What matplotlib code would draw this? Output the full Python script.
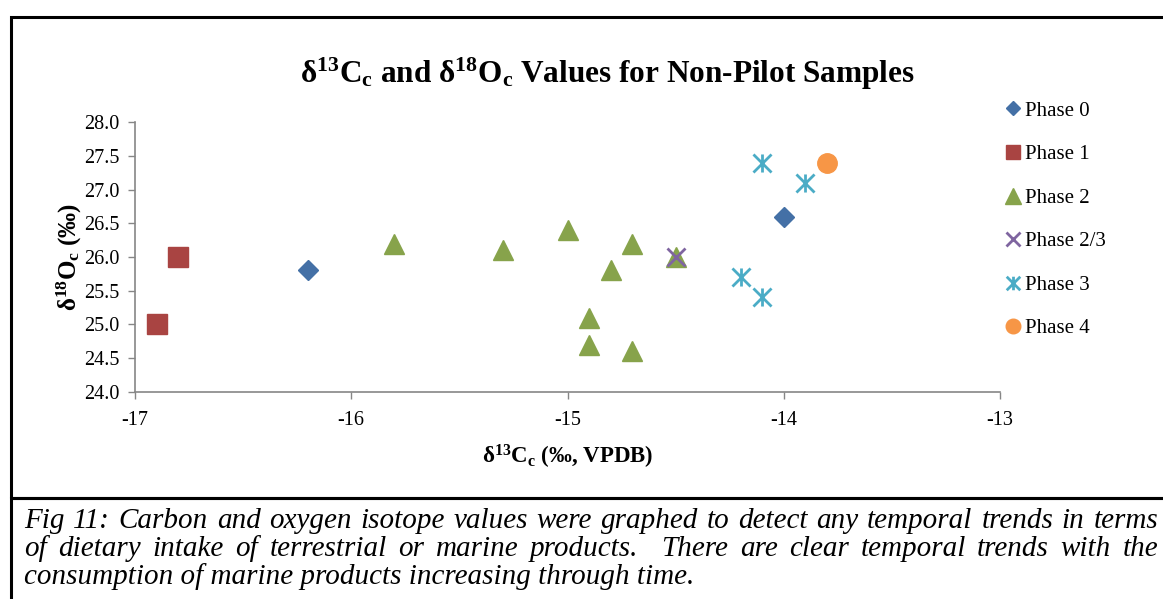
import numpy as np
import matplotlib
matplotlib.use('Agg')
import matplotlib.pyplot as plt
from matplotlib.path import Path
from matplotlib.patches import Rectangle

plt.rcParams['font.family'] = ['Liberation Serif', 'DejaVu Serif']
plt.rcParams['mathtext.fontset'] = 'custom'
plt.rcParams['mathtext.rm'] = 'Liberation Serif'
plt.rcParams['mathtext.it'] = 'Liberation Serif:italic'
plt.rcParams['mathtext.bf'] = 'Liberation Serif:bold'

# data (d13C, d18O)
phase0_x = [-16.2, -14.0]
phase0_y = [25.8, 26.6]
phase1_x = [-16.9, -16.8]
phase1_y = [25.0, 26.0]
phase2_x = [-15.8, -15.3, -15.0, -14.7, -14.8, -14.5, -14.9, -14.9, -14.7]
phase2_y = [26.2, 26.1, 26.4, 26.2, 25.8, 26.0, 25.1, 24.7, 24.6]
phase23_x = [-14.5]
phase23_y = [26.0]
phase3_x = [-14.1, -13.9, -14.2, -14.1]
phase3_y = [27.4, 27.1, 25.7, 25.4]
phase4_x = [-13.8]
phase4_y = [27.4]

x_ticks = [-17, -16, -15, -14, -13]
y_ticks = np.arange(24.0, 28.01, 0.5)

caption = ['Fig 11: Carbon and oxygen isotope values were graphed to detect any temporal trends in terms',
           'of dietary intake of terrestrial or marine products.  There are clear temporal trends with the',
           'consumption of marine products increasing through time.']

# excel style star: X with a vertical bar
star = Path([(0, -1), (0, 1), (-1, -1), (1, 1), (-1, 1), (1, -1)],
            [Path.MOVETO, Path.LINETO, Path.MOVETO, Path.LINETO, Path.MOVETO, Path.LINETO])

fig = plt.figure(figsize=(11.63, 5.99), dpi=100)
ax = fig.add_axes([0.116, 0.3456, 0.744, 0.4507])

ax.plot(phase0_x, phase0_y, 'D', color='#4470A6', ms=10, ls='none', label='Phase 0')
ax.plot(phase1_x, phase1_y, 's', color='#A94442', ms=14, ls='none', label='Phase 1')
ax.plot(phase2_x, phase2_y, '^', color='#87A34B', ms=15, ls='none', label='Phase 2')
ax.plot(phase23_x, phase23_y, 'x', color='#7F65A0', ms=13, mew=2, ls='none', label='Phase 2/3')
ax.plot(phase3_x, phase3_y, marker=star, color='#4BACC6', ms=13, mew=2, ls='none', label='Phase 3')
ax.plot(phase4_x, phase4_y, 'o', color='#F79646', ms=14, ls='none', label='Phase 4')

ax.set_xlim(-17, -13)
ax.set_ylim(24.0, 28.0)
ax.set_xticks(x_ticks)
ax.set_xticklabels([str(v) for v in x_ticks])
ax.set_yticks(y_ticks)
ax.set_yticklabels(['%.1f' % v for v in y_ticks])
ax.tick_params(direction='out', length=5, color='#868686', labelsize=14.5, width=1)
ax.tick_params(axis='x', pad=9)
ax.tick_params(axis='y', pad=6)
for side in ['top', 'right']:
    ax.spines[side].set_visible(False)
for side in ['left', 'bottom']:
    ax.spines[side].set_color('#868686')
    ax.spines[side].set_linewidth(1.2)

ax.set_xlabel(r'$\mathbf{\delta^{13}C_c}$' + ' (‰, VPDB)', fontsize=16.5, fontweight='bold', labelpad=9)
ax.set_ylabel(r'$\mathbf{\delta^{18}O_c}$' + ' (‰)', fontsize=18, fontweight='bold', labelpad=0)

fig.text(0.522, 0.876, r'$\mathbf{\delta^{13}C_c}$ and $\mathbf{\delta^{18}O_c}$ Values for Non-Pilot Samples',
         fontsize=22.5, fontweight='bold', ha='center', va='center')

ax.legend(loc='upper left', bbox_to_anchor=(0.855, 0.845), bbox_transform=fig.transFigure,
          frameon=False, fontsize=15, labelspacing=1.15, handletextpad=0.05,
          handlelength=1.0, markerscale=0.75, borderaxespad=0)

# chart frame and caption box
fig.add_artist(Rectangle((11 / 1163, 1 - 498 / 599), 1.2, (498 - 17) / 599,
                         transform=fig.transFigure, fill=False, lw=2.2, color='black'))
fig.add_artist(Rectangle((11 / 1163, -0.2), 1.2, 0.2 + 1 - 498 / 599,
                         transform=fig.transFigure, fill=False, lw=2.2, color='black'))

# caption: first two lines justified between the box margins
renderer = fig.canvas.get_renderer()
left_px, right_px = 24, 1158
W = fig.bbox.width
for i, line in enumerate(caption):
    y = 1 - (521 + 28 * i) / 599
    if i == len(caption) - 1:
        fig.text(left_px / W, y, line, fontsize=21, style='italic', ha='left', va='center')
        continue
    words = line.split(' ')
    # an empty piece marks a double space after a sentence
    weights = []
    kept = []
    for w in words:
        if w == '':
            weights[-1] += 1
        else:
            kept.append(w)
            weights.append(1)
    weights = weights[:-1]
    texts = [fig.text(0, y, w, fontsize=21, style='italic', ha='left', va='center') for w in kept]
    widths = [t.get_window_extent(renderer).width for t in texts]
    gap = (right_px - left_px - sum(widths)) / sum(weights)
    x = left_px
    for j, (t, w) in enumerate(zip(texts, widths)):
        t.set_x(x / W)
        if j < len(weights):
            x += w + gap * weights[j]

fig.savefig('out.png', dpi=100)
